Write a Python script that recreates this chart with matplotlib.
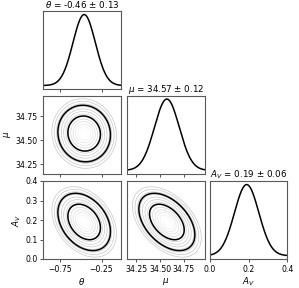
import numpy as np
import matplotlib.pyplot as plt
from matplotlib.colors import LinearSegmentedColormap

# posterior summary
labels = [r"$\theta$", r"$\mu$", r"$A_V$"]
means = [-0.46, 34.57, 0.19]
sigmas = [0.13, 0.12, 0.06]
# widths of the drawn marginal curves (a bit broader than the quoted errors)
curve_sigmas = [0.135, 0.13, 0.063]
# correlations for (theta, mu), (theta, Av), (mu, Av)
corr = {(1, 0): -0.05, (2, 0): -0.33, (2, 1): -0.45}
limits = [(-0.955, -0.02), (34.155, 34.965), (0.0, 0.4)]
ticks = [[-0.75, -0.25], [34.25, 34.50, 34.75], [0.0, 0.2, 0.4]]
yticks_av = [0.0, 0.1, 0.2, 0.3, 0.4]

W, H = 299, 288
fig = plt.figure(figsize=(W / 100, H / 100), dpi=100)
plt.rcParams['font.size'] = 5.5

col_left = [43.3, 127.3, 210.0]
row_top = [11.0, 95.5, 181.0]
pw, ph = 77.2, 78.0

gray_cmap = LinearSegmentedColormap.from_list("g", ["0.78", "0.82", "0.88", "1.0"])

# gray contour radii (in sigma units) and the two black credible levels
gray_r = np.arange(0.15, 3.1, 0.22)
gray_levels = np.sort(np.exp(-0.5 * gray_r ** 2))
black_levels = [np.exp(-5.99 / 2), np.exp(-2.30 / 2)]


def make_ax(i, j):
    x0 = col_left[j] / W
    y0 = 1 - (row_top[i] + ph) / H
    ax = fig.add_axes([x0, y0, pw / W, ph / H])
    for s in ax.spines.values():
        s.set_color("0.35")
        s.set_linewidth(0.8)
    ax.tick_params(length=2.5, width=0.6, pad=1.5, labelsize=5.6, color="0.2")
    return ax


n = len(means)
for i in range(n):
    for j in range(n):
        if j > i:
            continue
        ax = make_ax(i, j)
        ax.set_xlim(limits[j])
        ax.set_xticks(ticks[j])
        if i == j:
            x = np.linspace(limits[j][0], limits[j][1], 300)
            y = np.exp(-0.5 * ((x - means[j]) / curve_sigmas[j]) ** 2)
            ax.plot(x, y, color="k", lw=1.1)
            ax.set_xlim(limits[j])
            ax.set_yticks([])
            ax.set_title(f"{labels[j]} = {means[j]:.2f} ± {sigmas[j]:.2f}",
                         fontsize=6.3, pad=2)
        else:
            x = np.linspace(limits[j][0], limits[j][1], 200)
            y = np.linspace(limits[i][0], limits[i][1], 200)
            X, Y = np.meshgrid(x, y)
            r = corr[(i, j)]
            u = (X - means[j]) / sigmas[j]
            v = (Y - means[i]) / sigmas[i]
            q = (u ** 2 - 2 * r * u * v + v ** 2) / (1 - r ** 2)
            Z = np.exp(-0.5 * q)
            ax.contour(X, Y, Z, levels=gray_levels, cmap=gray_cmap, linewidths=0.5)
            ax.contour(X, Y, Z, levels=black_levels, colors="k", linewidths=1.1)
            ax.set_ylim(limits[i])
            if i == 2:
                ax.set_yticks(yticks_av)
            else:
                ax.set_yticks(ticks[i])
            if j == 0:
                ax.set_ylabel(labels[i], fontsize=6.3, labelpad=2)
            else:
                ax.set_yticklabels([])
                ax.tick_params(axis="y", length=0)
        if i == n - 1:
            ax.set_xlabel(labels[j], fontsize=6.3, labelpad=1.5)
        else:
            ax.set_xticklabels([])

fig.savefig("out.png", dpi=100)
